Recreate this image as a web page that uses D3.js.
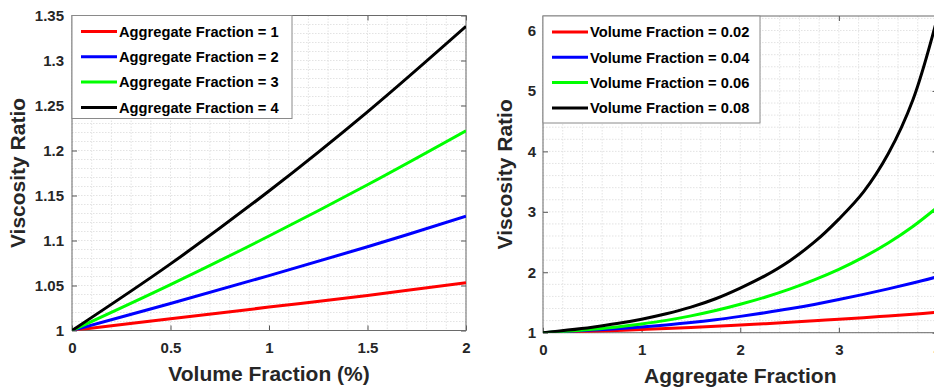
<!DOCTYPE html>
<html lang="en">
  <head>
    <meta charset="UTF-8" />
    <title>Viscosity Ratio</title>
    <script src="https://d3js.org/d3.v7.min.js"></script>
    <style>
      body {
        margin: 0;
        background: #fff;
        overflow: hidden;
      }
      svg {
        display: block;
        overflow: hidden;
        font-family: "Liberation Sans", Arial, sans-serif;
        font-weight: bold;
      }
      .tick text {
        font-size: 15px;
        fill: #262626;
      }
      .tick line {
        stroke: #555;
      }
      .grid line {
        stroke: #dcdcdc;
        stroke-width: 0.8;
        stroke-dasharray: 1.5 1.5;
      }
      .title {
        font-size: 21px;
        fill: #262626;
      }
      .legend text {
        font-size: 14.7px;
        fill: #000;
      }
    </style>
  </head>
  <body>
    <svg width="934" height="389"></svg>

    <script>
      // ---- data ----
      const colors = ["#ff0000", "#0000ff", "#00ff00", "#000000"];

      // left panel: viscosity ratio vs volume fraction (%)
      const volumePct = [0, 0.5, 1, 1.5, 2];
      const aggLabels = ["Aggregate Fraction = 1", "Aggregate Fraction = 2",
                         "Aggregate Fraction = 3", "Aggregate Fraction = 4"];
      const agg1 = [1, 1.013, 1.026, 1.039, 1.053];
      const agg2 = [1, 1.030, 1.061, 1.093, 1.127];
      const agg3 = [1, 1.051, 1.105, 1.162, 1.222];
      const agg4 = [1, 1.074, 1.155, 1.243, 1.338];
      const leftXTicks = [0, 0.5, 1, 1.5, 2];
      const leftYTicks = [1, 1.05, 1.1, 1.15, 1.2, 1.25, 1.3, 1.35];

      // right panel: viscosity ratio vs aggregate fraction
      const aggFraction = [0, 0.25, 0.5, 0.75, 1, 1.25, 1.5, 1.75, 2,
                           2.25, 2.5, 2.75, 3, 3.25, 3.5, 3.75, 4];
      const volLabels = ["Volume Fraction = 0.02", "Volume Fraction = 0.04",
                         "Volume Fraction = 0.06", "Volume Fraction = 0.08"];
      const vol02 = [1, 1.012, 1.025, 1.038, 1.053, 1.069, 1.087, 1.106, 1.127,
                     1.149, 1.172, 1.197, 1.222, 1.249, 1.278, 1.307, 1.338];
      const vol04 = [1, 1.020, 1.043, 1.067, 1.095, 1.129, 1.168, 1.215, 1.270,
                     1.330, 1.395, 1.468, 1.548, 1.634, 1.725, 1.822, 1.927];
      const vol06 = [1, 1.026, 1.058, 1.096, 1.145, 1.204, 1.278, 1.366, 1.470,
                     1.587, 1.721, 1.874, 2.048, 2.250, 2.484, 2.757, 3.077];
      const vol08 = [1, 1.043, 1.092, 1.151, 1.224, 1.313, 1.423, 1.562, 1.738,
                     1.941, 2.188, 2.497, 2.880, 3.330, 3.960, 4.850, 6.220];
      const rightXTicks = [0, 1, 2, 3, 4];
      const rightYTicks = [1, 2, 3, 4, 5, 6];

      const svg = d3.select("svg");

      // draws one boxed MATLAB-style panel
      function drawPanel(cfg) {
        const x = d3.scaleLinear().domain(cfg.xDomain).range([cfg.left, cfg.right]);
        const y = d3.scaleLinear().domain(cfg.yDomain).range([cfg.bottom, cfg.top]);
        const g = svg.append("g");

        // minor grid (dotted)
        const grid = g.append("g").attr("class", "grid");
        grid.selectAll(".gx")
          .data(d3.range(cfg.xDomain[0], cfg.xDomain[1] + 1e-9, cfg.xMinor))
          .join("line")
          .attr("x1", d => x(d)).attr("x2", d => x(d))
          .attr("y1", cfg.top).attr("y2", cfg.bottom);
        grid.selectAll(".gy")
          .data(d3.range(cfg.yDomain[0], cfg.yDomain[1] + 1e-9, cfg.yMinor))
          .join("line")
          .attr("class", "gy")
          .attr("y1", d => y(d)).attr("y2", d => y(d))
          .attr("x1", cfg.left).attr("x2", cfg.right);

        // axes with inward ticks on all four sides
        const fmt = d => String(+d.toFixed(2));
        g.append("g")
          .attr("transform", `translate(0,${cfg.bottom})`)
          .call(d3.axisBottom(x).tickValues(cfg.xTicks).tickFormat(fmt).tickSize(-5).tickPadding(12));
        g.append("g")
          .attr("transform", `translate(${cfg.left},0)`)
          .call(d3.axisLeft(y).tickValues(cfg.yTicks).tickFormat(fmt).tickSize(-5).tickPadding(cfg.yPad));
        g.append("g")
          .attr("transform", `translate(0,${cfg.top})`)
          .call(d3.axisTop(x).tickValues(cfg.xTicks).tickFormat("").tickSize(-5));
        g.append("g")
          .attr("transform", `translate(${cfg.right},0)`)
          .call(d3.axisRight(y).tickValues(cfg.yTicks).tickFormat("").tickSize(-5));
        g.selectAll(".domain").remove();
        g.selectAll(".tick text").attr("font-family", null).attr("font-size", null);

        // box
        g.append("rect")
          .attr("x", cfg.left).attr("y", cfg.top)
          .attr("width", cfg.right - cfg.left).attr("height", cfg.bottom - cfg.top)
          .attr("fill", "none").attr("stroke", "#6a6a6a").attr("stroke-width", 1);

        // curves
        const clipId = "clip" + cfg.left;
        g.append("clipPath").attr("id", clipId)
          .append("rect")
          .attr("x", cfg.left).attr("y", cfg.top)
          .attr("width", cfg.right - cfg.left).attr("height", cfg.bottom - cfg.top);
        const line = d3.line()
          .x((d, i) => x(cfg.xs[i]))
          .y(d => y(d))
          .curve(d3.curveCatmullRom.alpha(0.5));
        g.append("g").attr("clip-path", `url(#${clipId})`)
          .selectAll("path")
          .data(cfg.series)
          .join("path")
          .attr("d", d => line(d))
          .attr("fill", "none")
          .attr("stroke", (d, i) => colors[i])
          .attr("stroke-width", 3);

        // axis titles
        g.append("text").attr("class", "title")
          .attr("x", (cfg.left + cfg.right) / 2).attr("y", cfg.bottom + 50)
          .attr("text-anchor", "middle")
          .text(cfg.xTitle);
        g.append("text").attr("class", "title")
          .attr("transform", `translate(${cfg.yTitleX},${(cfg.top + cfg.bottom) / 2}) rotate(-90)`)
          .attr("text-anchor", "middle")
          .text("Viscosity Ratio");

        // legend
        const lg = g.append("g").attr("class", "legend");
        lg.append("rect")
          .attr("x", cfg.left).attr("y", cfg.legend.y)
          .attr("width", cfg.legend.w).attr("height", cfg.legend.h)
          .attr("fill", "#fff").attr("stroke", "#8a8a8a").attr("stroke-width", 1);
        cfg.labels.forEach((lab, i) => {
          const ly = cfg.legend.y + 16 + i * 25.3;
          lg.append("line")
            .attr("x1", cfg.left + 9).attr("x2", cfg.left + 45)
            .attr("y1", ly).attr("y2", ly)
            .attr("stroke", colors[i]).attr("stroke-width", 3);
          lg.append("text")
            .attr("x", cfg.left + 47).attr("y", ly)
            .attr("dy", "0.36em")
            .text(lab);
        });
      }

      drawPanel({
        left: 72, right: 466, top: 15.5, bottom: 330.5,
        xDomain: [0, 2], yDomain: [1, 1.35],
        xMinor: 0.1, yMinor: 0.01,
        xTicks: leftXTicks, yTicks: leftYTicks, yPad: 8,
        xs: volumePct, series: [agg1, agg2, agg3, agg4],
        labels: aggLabels,
        xTitle: "Volume Fraction (%)", yTitleX: 25,
        legend: { y: 15.5, w: 220, h: 103 }
      });

      drawPanel({
        left: 543, right: 937.5, top: 16, bottom: 332.7,
        xDomain: [0, 4], yDomain: [1, 6.24],
        xMinor: 0.2, yMinor: 0.2,
        xTicks: rightXTicks, yTicks: rightYTicks, yPad: 7,
        xs: aggFraction, series: [vol02, vol04, vol06, vol08],
        labels: volLabels,
        xTitle: "Aggregate Fraction", yTitleX: 512,
        legend: { y: 16, w: 217, h: 107 }
      });
    </script>
  </body>
</html>
